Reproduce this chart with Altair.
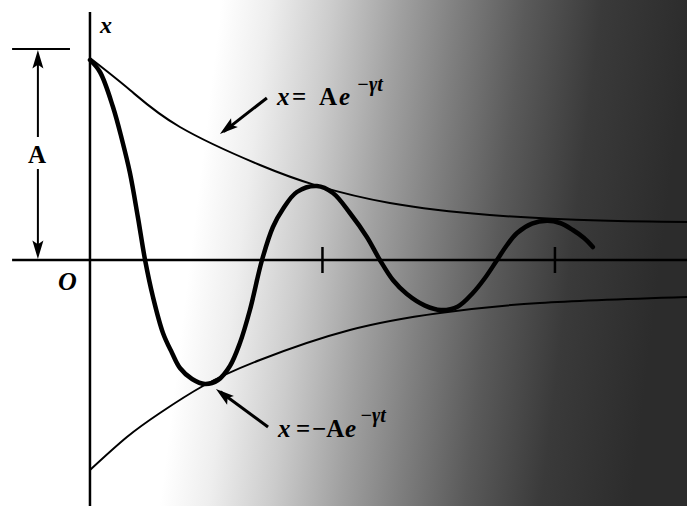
import altair as alt
import pandas as pd

# Damped oscillation x(t): t in periods T, x in units of the amplitude A
osc_t = [0.000, 0.043, 0.099, 0.138, 0.172, 0.206, 0.237, 0.271, 0.314, 0.353,
         0.387, 0.439, 0.495, 0.551, 0.602, 0.645, 0.688, 0.740, 0.787, 0.830,
         0.890, 0.976, 1.045, 1.118, 1.191, 1.247, 1.303, 1.363, 1.441, 1.510,
         1.583, 1.647, 1.699, 1.751, 1.794, 1.837, 1.901, 1.966, 2.022, 2.077,
         2.125, 2.163]
osc_x = [1.000, 0.940, 0.765, 0.600, 0.435, 0.215, 0.000, -0.185, -0.365, -0.465,
         -0.540, -0.595, -0.620, -0.600, -0.530, -0.415, -0.250, 0.000, 0.165, 0.255,
         0.340, 0.370, 0.335, 0.235, 0.115, 0.000, -0.100, -0.170, -0.228, -0.250,
         -0.232, -0.165, -0.090, 0.000, 0.075, 0.135, 0.182, 0.196, 0.185, 0.150,
         0.110, 0.065]

# Envelope x = A e^{-gamma t}
env_up_t = [0.000, 0.172, 0.387, 0.731, 0.976, 1.290, 1.720, 2.194, 2.568]
env_up_x = [1.010, 0.850, 0.665, 0.475, 0.372, 0.285, 0.225, 0.197, 0.190]

# Envelope x = -A e^{-gamma t}
env_lo_t = [0.000, 0.159, 0.301, 0.486, 0.731, 1.118, 1.505, 1.935, 2.568]
env_lo_x = [-1.050, -0.885, -0.765, -0.630, -0.500, -0.350, -0.265, -0.215, -0.185]

tick_t = [1, 2]

T_MIN, T_MAX = -0.387, 2.568
X_MIN, X_MAX = -1.23, 1.30

xs = alt.Scale(domain=[T_MIN, T_MAX], nice=False, zero=False)
ys = alt.Scale(domain=[X_MIN, X_MAX], nice=False, zero=False)
SERIF = "Liberation Serif"


def px(field="t"):
    return alt.X(f"{field}:Q", scale=xs, axis=None)


def py(field="x"):
    return alt.Y(f"{field}:Q", scale=ys, axis=None)


def segments(rows, width):
    df = pd.DataFrame(rows, columns=["ta", "xa", "tb", "xb"])
    return alt.Chart(df).mark_rule(color="black", strokeWidth=width, strokeCap="butt").encode(
        x=px("ta"), y=py("xa"), x2=alt.X2("tb:Q"), y2=alt.Y2("xb:Q"))


# halftone-like shading darkening to the right
shade = alt.Chart(pd.DataFrame({"ta": [T_MIN], "tb": [T_MAX], "xa": [X_MIN], "xb": [X_MAX]})).mark_rect(
    fill=alt.Gradient(
        gradient="linear", x1=0, x2=1, y1=0, y2=0.09,
        stops=[
            alt.GradientStop(offset=0.0, color="#ffffff"),
            alt.GradientStop(offset=0.32, color="#ffffff"),
            alt.GradientStop(offset=0.39, color="#eeeeee"),
            alt.GradientStop(offset=0.48, color="#cccccc"),
            alt.GradientStop(offset=0.58, color="#a0a0a0"),
            alt.GradientStop(offset=0.66, color="#808080"),
            alt.GradientStop(offset=0.76, color="#5a5a5a"),
            alt.GradientStop(offset=0.87, color="#3a3a3a"),
            alt.GradientStop(offset=1.0, color="#2c2c2c"),
        ],
    )
).encode(x=px("ta"), x2=alt.X2("tb:Q"), y=py("xa"), y2=alt.Y2("xb:Q"))

# coordinate axes and period ticks
axes = segments([
    [0.0, 1.24, 0.0, X_MIN],
    [-0.335, 0.0, T_MAX, 0.0],
] + [[t, 0.065, t, -0.065] for t in tick_t], 2.5)

# amplitude dimension marker
bracket = segments([
    [-0.335, 1.055, -0.086, 1.055],
    [-0.224, 1.00, -0.224, 0.615],
    [-0.224, 0.455, -0.224, 0.05],
], 2)

# pointer arrows to the envelopes
pointers = segments([
    [0.761, 0.810, 0.575, 0.642],
    [0.766, -0.835, 0.560, -0.659],
], 3)

heads_df = pd.DataFrame({
    "t": [-0.224, -0.224, 0.559, 0.542],
    "x": [1.05, 0.005, 0.63, -0.645],
    "angle": [0, 180, 232, 308],
})
heads = alt.Chart(heads_df).mark_point(
    shape="M0,0L0.6,2L0,1.6L-0.6,2Z", filled=True, color="black", opacity=1, size=340
).encode(x=px(), y=py(), angle=alt.Angle("angle:Q", scale=None))

env_up = alt.Chart(pd.DataFrame({"t": env_up_t, "x": env_up_x})).mark_line(
    color="black", strokeWidth=2, interpolate="natural").encode(x=px(), y=py())
env_lo = alt.Chart(pd.DataFrame({"t": env_lo_t, "x": env_lo_x})).mark_line(
    color="black", strokeWidth=2, interpolate="natural").encode(x=px(), y=py())
osc = alt.Chart(pd.DataFrame({"t": osc_t, "x": osc_x})).mark_line(
    color="black", strokeWidth=4.5, interpolate="catmull-rom", strokeCap="round").encode(x=px(), y=py())

# labels: upright pieces and italic pieces
upright_df = pd.DataFrame({
    "label": ["=", "A", "=", "\u2212A", "A"],
    "t": [0.869, 0.985, 0.886, 0.955, -0.267],
    "x": [0.775, 0.775, -0.885, -0.885, 0.485],
    "fs": [25, 25, 25, 25, 25],
})
upright = alt.Chart(upright_df).mark_text(
    font=SERIF, fontWeight="bold", align="left", baseline="alphabetic", color="black"
).encode(x=px(), y=py(), text="label:N", size=alt.Size("fs:Q", scale=None))

italic_df = pd.DataFrame({
    "label": ["x", "e", "\u2212\u03b3t", "x", "e", "\u2212\u03b3t", "O", "x"],
    "t": [0.804, 1.071, 1.148, 0.809, 1.097, 1.161, -0.138, 0.043],
    "x": [0.775, 0.775, 0.845, -0.885, -0.885, -0.812, -0.150, 1.135],
    "fs": [25, 25, 20, 25, 25, 20, 26, 24],
})
italic = alt.Chart(italic_df).mark_text(
    font=SERIF, fontWeight="bold", fontStyle="italic", align="left", baseline="alphabetic", color="black"
).encode(x=px(), y=py(), text="label:N", size=alt.Size("fs:Q", scale=None))

chart = alt.layer(
    shade, axes, bracket, env_up, env_lo, osc, pointers, heads, upright, italic
).properties(
    width=687, height=506, padding=0,
    autosize=alt.AutoSizeParams(type="none"),
    background="white",
).configure_view(stroke=None)

chart.save("out.html", embed_options={"renderer": "svg", "actions": False})
